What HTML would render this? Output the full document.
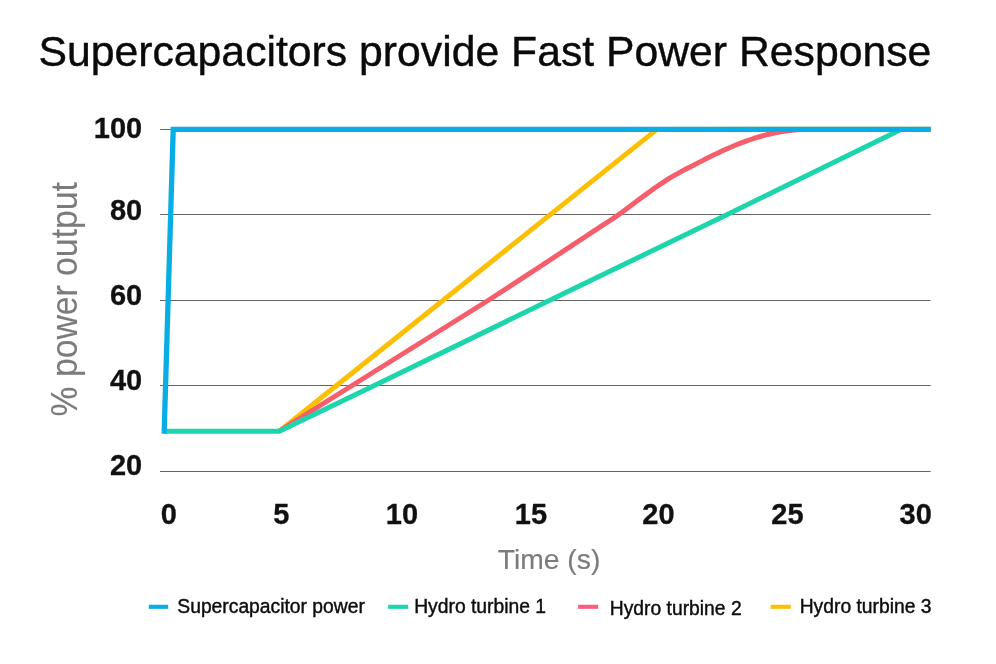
<!DOCTYPE html>
<html lang="en">
<head>
<meta charset="utf-8">
<title>Supercapacitors provide Fast Power Response</title>
<style>
html,body{margin:0;padding:0;background:#fff;}
body{width:996px;height:664px;overflow:hidden;}
svg{display:block;}
text{font-family:"Liberation Sans",sans-serif;}
.title{font-size:42.73px;fill:#0a0a0a;stroke:#0a0a0a;stroke-width:0.4px;}
.num{font-size:29px;font-weight:bold;fill:#111111;stroke:#111111;stroke-width:0.3px;}
.axis{fill:#7b7b7b;stroke:#7b7b7b;stroke-width:0.12px;}
.leg{font-size:19.3px;fill:#0c0c0c;stroke:#0c0c0c;stroke-width:0.4px;}
.grid line{stroke:#646464;stroke-width:1;}
.series path{fill:none;stroke-width:5;stroke-linejoin:round;stroke-linecap:butt;}
.key line{stroke-width:4.1;}
</style>
</head>
<body>
<svg width="996" height="664" viewBox="0 0 996 664">
<rect width="996" height="664" fill="#ffffff"/>
<text class="title" x="38.5" y="66.1">Supercapacitors provide Fast Power Response</text>
<g class="grid">
<line x1="160.0" y1="129.50" x2="930.6" y2="129.50"/>
<line x1="160.0" y1="214.50" x2="930.6" y2="214.50"/>
<line x1="160.0" y1="300.50" x2="930.6" y2="300.50"/>
<line x1="160.0" y1="385.50" x2="930.6" y2="385.50"/>
<line x1="160.0" y1="471.50" x2="930.6" y2="471.50"/>
</g>
<g class="num" text-anchor="end">
<text x="142.2" y="137.7">100</text>
<text x="142.2" y="220.2">80</text>
<text x="142.2" y="305.2">60</text>
<text x="142.2" y="390.2">40</text>
<text x="142.2" y="475.3">20</text>
</g>
<g class="num" text-anchor="middle">
<text x="168.7" y="523.9">0</text>
<text x="281.4" y="523.9">5</text>
<text x="402.0" y="523.9">10</text>
<text x="530.9" y="523.9">15</text>
<text x="658.5" y="523.9">20</text>
<text x="787.4" y="523.9">25</text>
<text x="915.7" y="523.9">30</text>
</g>
<text class="axis" font-size="37" text-anchor="middle" transform="translate(77.1 299.3) rotate(-90) scale(0.912 1)">% power output</text>
<text class="axis" font-size="28.3" text-anchor="middle" x="549.0" y="568.8">Time (s)</text>
<g class="series">
<path stroke="#FBBF04" d="M279.3 431.2 L656.9 129.4 L930.6 129.2"/>
<path stroke="#F65E6C" d="M279.3 431.20 L352.1 385.50 L488.0 300.50 L530.0 273.15 L534.0 270.52 L538.0 267.89 L542.0 265.25 L546.0 262.62 L550.0 259.98 L554.0 257.35 L558.0 254.72 L562.0 252.08 L566.0 249.45 L570.0 246.81 L574.0 244.17 L578.0 241.53 L582.0 238.89 L586.0 236.24 L590.0 233.60 L594.0 230.96 L598.0 228.33 L602.0 225.71 L606.0 223.10 L610.0 220.48 L614.0 217.81 L618.0 215.07 L622.0 212.24 L626.0 209.33 L630.0 206.35 L634.0 203.34 L638.0 200.33 L642.0 197.34 L646.0 194.37 L650.0 191.45 L654.0 188.59 L658.0 185.79 L662.0 183.07 L666.0 180.46 L670.0 177.96 L674.0 175.59 L678.0 173.32 L682.0 171.15 L686.0 169.03 L690.0 166.96 L694.0 164.92 L698.0 162.89 L702.0 160.87 L706.0 158.85 L710.0 156.83 L714.0 154.85 L718.0 152.92 L722.0 151.04 L726.0 149.22 L730.0 147.47 L734.0 145.78 L738.0 144.16 L742.0 142.61 L746.0 141.14 L750.0 139.74 L754.0 138.41 L758.0 137.17 L762.0 136.02 L766.0 134.94 L770.0 133.95 L774.0 133.05 L778.0 132.26 L782.0 131.56 L786.0 130.95 L790.0 130.43 L794.0 130.02 L798.0 129.73 L802.0 129.55 L806.0 129.46 L810.0 129.42"/>
<path stroke="#1CD5AD" d="M164.4 431.2 L279.3 431.2 L374.4 385.5 L549.3 300.5 L727.3 214.5 L900.9 129.4"/>
<path stroke="#07ADE4" style="stroke-width:5.3px;stroke-linejoin:miter" d="M161.6 431.2 L164.2 431.2 L173.2 129.4 L930.8 129.4"/>
</g>
<g class="key">
<line x1="148.8" y1="606.8" x2="168.2" y2="606.8" stroke="#07ADE4"/>
<text class="leg" x="177.3" y="612.6">Supercapacitor power</text>
<line x1="388.1" y1="606.8" x2="408.2" y2="606.8" stroke="#1CD5AD"/>
<text class="leg" x="414.2" y="612.6">Hydro turbine 1</text>
<line x1="578.1" y1="606.8" x2="598.2" y2="606.8" stroke="#FA5F7C"/>
<text class="leg" x="609.8" y="614.6">Hydro turbine 2</text>
<line x1="770.6" y1="606.8" x2="790.7" y2="606.8" stroke="#FBBF04"/>
<text class="leg" x="799.7" y="612.6">Hydro turbine 3</text>
</g>
</svg>
</body>
</html>
